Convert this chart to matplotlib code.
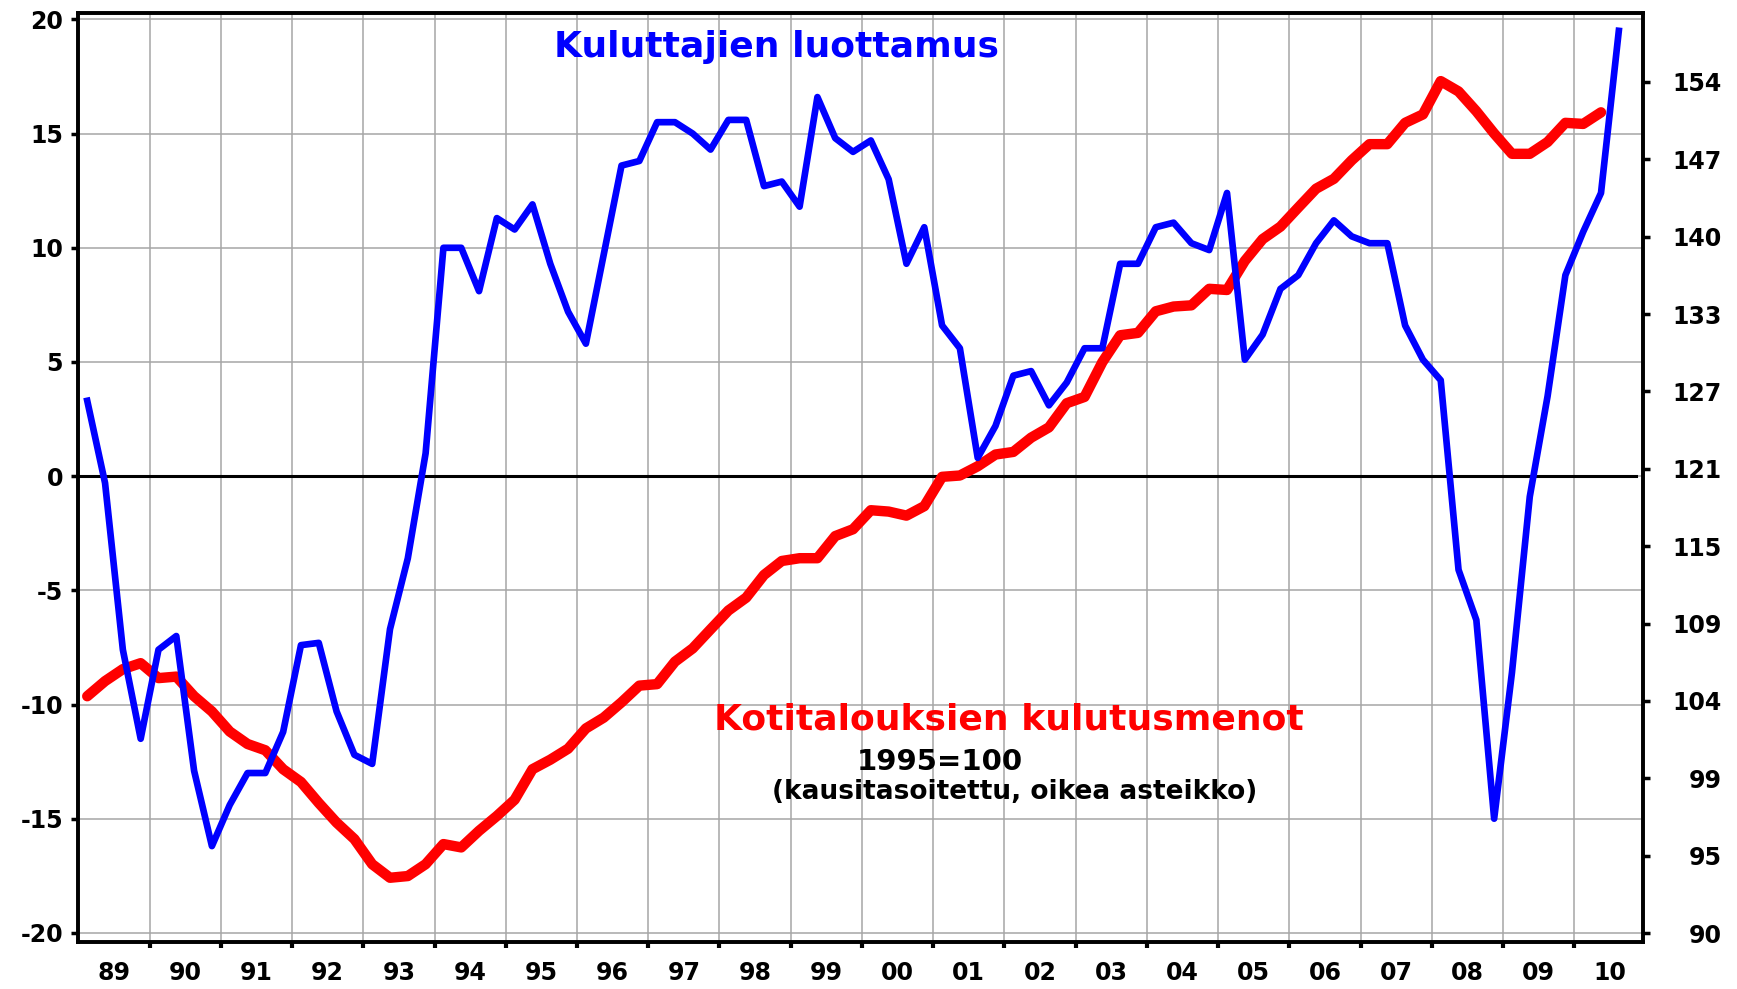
import numpy as np
import matplotlib
matplotlib.use("Agg")
from matplotlib import pyplot as plt
from matplotlib.ticker import FixedLocator, NullLocator

# quarterly data 1989Q1 ->
years = ['89', '90', '91', '92', '93', '94', '95', '96', '97', '98', '99',
         '00', '01', '02', '03', '04', '05', '06', '07', '08', '09', '10']

# consumer confidence (left axis), 1989Q1 - 2010Q3
confidence = [3.3, -0.3, -7.6, -11.5,
              -7.6, -7.0, -12.9, -16.2,
              -14.4, -13.0, -13.0, -11.2,
              -7.4, -7.3, -10.3, -12.2,
              -12.6, -6.7, -3.6, 1.0,
              10.0, 10.0, 8.1, 11.3,
              10.8, 11.9, 9.3, 7.2,
              5.8, 9.7, 13.6, 13.8,
              15.5, 15.5, 15.0, 14.3,
              15.6, 15.6, 12.7, 12.9,
              11.8, 16.6, 14.8, 14.2,
              14.7, 13.0, 9.3, 10.9,
              6.6, 5.6, 0.8, 2.2,
              4.4, 4.6, 3.1, 4.1,
              5.6, 5.6, 9.3, 9.3,
              10.9, 11.1, 10.2, 9.9,
              12.4, 5.1, 6.2, 8.2,
              8.8, 10.2, 11.2, 10.5,
              10.2, 10.2, 6.6, 5.1,
              4.2, -4.1, -6.3, -15.0,
              -8.6, -0.9, 3.5, 8.8,
              10.7, 12.4, 19.5]

# household consumption expenditure, 1995=100 (right axis), 1989Q1 - 2010Q2
consumption = [104.5, 105.5, 106.3, 106.7,
               105.7, 105.8, 104.5, 103.5,
               102.2, 101.4, 101.0, 99.8,
               99.0, 97.7, 96.5, 95.5,
               94.0, 93.2, 93.3, 94.0,
               95.2, 95.0, 96.0, 96.9,
               97.9, 99.8, 100.4, 101.1,
               102.4, 103.1, 104.1, 105.2,
               105.3, 106.8, 107.7, 109.0,
               110.3, 111.2, 112.8, 113.8,
               114.0, 114.0, 115.6, 116.1,
               117.5, 117.4, 117.1, 117.8,
               120.0, 120.1, 120.8, 121.7,
               121.9, 123.0, 123.8, 125.7,
               126.2, 129.0, 131.2, 131.4,
               133.2, 133.6, 133.7, 135.1,
               135.0, 137.5, 139.4, 140.5,
               142.2, 143.9, 144.8, 146.5,
               148.0, 148.0, 150.0, 150.8,
               154.0, 153.0, 151.1, 149.0,
               147.1, 147.1, 148.2, 150.0,
               149.9, 151.0]

left_ticks = [-20, -15, -10, -5, 0, 5, 10, 15, 20]
right_labels = ['90', '95', '99', '104', '109', '115', '121', '127', '133', '140', '147', '154']

plt.rcParams['font.family'] = ['DejaVu Sans']
plt.rcParams['font.weight'] = 'bold'

x_conf = 1989 + (np.arange(len(confidence)) + 0.5) / 4
x_cons = 1989 + (np.arange(len(consumption)) + 0.5) / 4

fig = plt.figure(figsize=(17.37, 9.89), dpi=100)
pos = [0.0451, 0.0475, 0.9006, 0.9398]

ax = fig.add_axes(pos)
ax.set_xlim(1989, 2010.96)
ax.set_ylim(-20.4, 20.3)

# x: gridlines at year boundaries, labels at mid-year
ax.xaxis.set_major_locator(FixedLocator(np.arange(1990, 2011)))
ax.xaxis.set_minor_locator(FixedLocator(np.arange(len(years)) + 1989.5))
ax.set_xticklabels([], minor=False)
ax.set_xticklabels(years, minor=True)
ax.tick_params(axis='x', which='major', direction='out', length=4, width=3, color='black')
ax.tick_params(axis='x', which='minor', length=0, pad=14, labelsize=17)

ax.set_yticks(left_ticks)
ax.set_yticklabels([str(t) for t in left_ticks])
ax.tick_params(axis='y', direction='out', length=5, width=2.5, pad=6, labelsize=17)

ax.grid(True, color='#a6a6a6', linewidth=1.1)
ax.set_axisbelow(True)
ax.axhline(0, color='black', linewidth=2.2, xmax=0.996, zorder=1.5)
for s in ax.spines.values():
    s.set_linewidth(2.6)

# right axis, log scale
axr = ax.twinx()
axr.plot(x_cons, consumption, color='#ff0000', linewidth=7.5, solid_capstyle='round',
         solid_joinstyle='round')
axr.set_yscale('log')
axr.set_ylim(89.5, 160.8)
axr.yaxis.set_major_locator(FixedLocator(90 * 1.05 ** np.arange(len(right_labels))))
axr.yaxis.set_minor_locator(NullLocator())
axr.set_yticklabels(right_labels)
axr.tick_params(axis='y', direction='out', length=5, width=2.5, pad=52, labelsize=17)
for lbl in axr.get_yticklabels():
    lbl.set_horizontalalignment('right')
for s in axr.spines.values():
    s.set_linewidth(2.6)

# top layer for the confidence line
axb = fig.add_axes(pos, sharex=ax, sharey=ax)
axb.set_axis_off()
axb.patch.set_visible(False)
axb.plot(x_conf, confidence, color='#0000ff', linewidth=4.8, solid_joinstyle='round')

axb.text(1998.8, 18.8, 'Kuluttajien luottamus', color='#0000ff', fontsize=26,
         fontweight='bold', ha='center', va='center')
axb.text(2002.06, -10.65, 'Kotitalouksien kulutusmenot', color='#ff0000', fontsize=26,
         fontweight='bold', ha='center', va='center')
axb.text(2001.1, -12.5, '1995=100', color='black', fontsize=21,
         fontweight='bold', ha='center', va='center')
axb.text(2002.14, -13.85, '(kausitasoitettu, oikea asteikko)', color='black', fontsize=19,
         fontweight='bold', ha='center', va='center')

fig.savefig('out.png', dpi=100)
